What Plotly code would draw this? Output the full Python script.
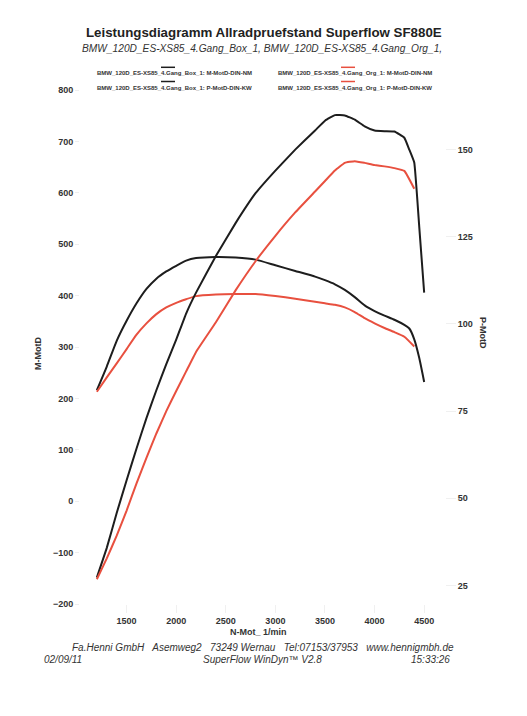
import plotly.graph_objects as go

# engine speed (1/min) for each run
rpm_box = [1200, 1300, 1400, 1500, 1600, 1700, 1800, 1900, 2000, 2100, 2200, 2400,
           2600, 2800, 3000, 3200, 3400, 3500, 3600, 3700, 3800, 3900, 4000, 4100,
           4200, 4300, 4350, 4400, 4450, 4500]
rpm_org = [1200, 1300, 1400, 1500, 1600, 1700, 1800, 1900, 2000, 2100, 2200, 2400,
           2600, 2800, 3000, 3200, 3400, 3500, 3600, 3700, 3800, 3900, 4000, 4100,
           4200, 4300, 4400]

# torque M-MotD-DIN (Nm)
torque_box = [216, 262, 312, 351, 385, 413, 433, 447, 458, 468, 473, 475,
              474, 470, 459, 448, 437, 430, 422, 411, 397, 381, 370, 361,
              353, 343, 336, 315, 279, 232]
torque_org = [213, 241, 268, 296, 324, 346, 364, 377, 386, 393, 399, 402,
              403, 403, 399, 394, 388, 385, 382, 377, 368, 356, 346, 337,
              329, 320, 301]

# power P-MotD-DIN (kW)
power_box = [27.3, 35.8, 45.8, 55.2, 64.3, 73.0, 81.0, 88.5, 95.5, 103.0, 109.0, 119.5,
             129.0, 137.5, 144.0, 150.0, 155.5, 158.3, 159.9, 159.8, 158.6, 156.7, 155.5, 155.3,
             155.2, 153.4, 150.0, 146.3, 128.0, 109.0]
power_org = [26.8, 32.8, 39.3, 46.5, 54.3, 61.6, 68.6, 75.0, 80.8, 86.4, 92.0, 100.5,
             109.7, 118.0, 125.3, 132.0, 138.0, 141.0, 144.0, 146.2, 146.7, 146.2, 145.6, 145.2,
             144.7, 143.9, 138.8]

legend_labels = [
    "BMW_120D_ES-XS85_4.Gang_Box_1: M-MotD-DIN-NM",
    "BMW_120D_ES-XS85_4.Gang_Box_1: P-MotD-DIN-KW",
    "BMW_120D_ES-XS85_4.Gang_Org_1: M-MotD-DIN-NM",
    "BMW_120D_ES-XS85_4.Gang_Org_1: P-MotD-DIN-KW",
]

BLACK = "#1d1d1d"
RED = "#e8503f"
FONT = "Liberation Sans, Arial, sans-serif"

# the page body adds 8px, so layout positions below are shifted back by that
OFF = 8
L, R, T, B = 80 - OFF, 445 - OFF, 90 - OFF, 604 - OFF


def px(x):
    return (x - OFF - L) / (R - L)


def py(y):
    return (B - (y - OFF)) / (B - T)


fig = go.Figure()

fig.add_trace(go.Scatter(x=rpm_box, y=torque_box, mode="lines",
                         line=dict(color=BLACK, width=2, shape="spline", smoothing=0.5),
                         name=legend_labels[0]))
fig.add_trace(go.Scatter(x=rpm_org, y=torque_org, mode="lines",
                         line=dict(color=RED, width=2, shape="spline", smoothing=0.5),
                         name=legend_labels[2]))
fig.add_trace(go.Scatter(x=rpm_box, y=power_box, mode="lines", yaxis="y2",
                         line=dict(color=BLACK, width=2, shape="spline", smoothing=0.3),
                         name=legend_labels[1]))
fig.add_trace(go.Scatter(x=rpm_org, y=power_org, mode="lines", yaxis="y2",
                         line=dict(color=RED, width=2, shape="spline", smoothing=0.3),
                         name=legend_labels[3]))

fig.update_layout(
    width=527, height=716,
    margin=dict(l=L, r=527 - R, t=T, b=716 - B),
    paper_bgcolor="white", plot_bgcolor="white",
    showlegend=False,
    font=dict(family=FONT),
    xaxis=dict(range=[1030, 4710], tickvals=[1500, 2000, 2500, 3000, 3500, 4000, 4500],
               showgrid=False, zeroline=False, showline=False,
               ticks="outside", ticklen=8, tickcolor="#f0f0f0",
               tickfont=dict(family=FONT, size=9, color="#333333", weight="bold")),
    yaxis=dict(range=[-200, 800], dtick=100, showgrid=False, zeroline=False, showline=False,
               ticks="outside", ticklen=4, tickcolor="#eeeeee",
               tickfont=dict(family=FONT, size=9, color="#333333", weight="bold")),
    yaxis2=dict(range=[19.7, 167.1], tickvals=[25, 50, 75, 100, 125, 150],
                overlaying="y", side="right", showgrid=False, zeroline=False, showline=False,
                ticks="outside", ticklen=10, tickcolor="#f0f0f0",
                tickfont=dict(family=FONT, size=9, color="#333333", weight="bold")),
)

ann = []
# title block
ann.append(dict(text="<b>Leistungsdiagramm Allradpruefstand Superflow SF880E</b>",
                x=px(263.5), y=py(33), font=dict(size=13.3, color="#222222")))
ann.append(dict(text="<i>BMW_120D_ES-XS85_4.Gang_Box_1, BMW_120D_ES-XS85_4.Gang_Org_1,</i>",
                x=px(262), y=py(48), font=dict(size=10.2, color="#333333")))

# legend (line segment above each label)
leg_pos = [(95, 73.3, 168), (95, 87.5, 168), (276, 73.3, 348), (276, 87.5, 348)]
leg_col = [BLACK, BLACK, RED, RED]
shapes = []
for lab, (lx, ly, cx), col in zip(legend_labels, leg_pos, leg_col):
    ann.append(dict(text="<b>" + lab + "</b>", x=px(lx), y=py(ly), xanchor="left",
                    font=dict(size=6, color="#333333")))
    shapes.append(dict(type="line", xref="paper", yref="paper",
                       x0=px(cx - 7), x1=px(cx + 7), y0=py(ly - 6), y1=py(ly - 6),
                       line=dict(color=col, width=1.5)))

# axis titles
ann.append(dict(text="<b>M-MotD</b>", x=px(38), y=py(354), textangle=-90,
                font=dict(size=9, color="#333333")))
ann.append(dict(text="<b>P-MotD</b>", x=px(483), y=py(333), textangle=90,
                font=dict(size=9, color="#333333")))
ann.append(dict(text="<b>N-Mot_ 1/min</b>", x=px(258), y=py(632),
                font=dict(size=9, color="#333333")))

# footer
ann.append(dict(text="<i>Fa.Henni GmbH   Asemweg2   73249 Wernau   Tel:07153/37953   www.hennigmbh.de</i>",
                x=px(263), y=py(647), font=dict(size=10, color="#333333")))
ann.append(dict(text="<i>02/09/11</i>", x=px(42), y=py(659), xanchor="left",
                font=dict(size=10, color="#333333")))
ann.append(dict(text="<i>SuperFlow WinDyn\u2122 V2.8</i>", x=px(262), y=py(659),
                font=dict(size=10, color="#333333")))
ann.append(dict(text="<i>15:33:26</i>", x=px(452), y=py(659), xanchor="right",
                font=dict(size=10, color="#333333")))

for a in ann:
    a.setdefault("xref", "paper")
    a.setdefault("yref", "paper")
    a.setdefault("showarrow", False)
    a.setdefault("xanchor", "center")
    a.setdefault("yanchor", "middle")
    a["font"].setdefault("family", FONT)

fig.update_layout(annotations=ann, shapes=shapes)

fig.write_html("out.html")
